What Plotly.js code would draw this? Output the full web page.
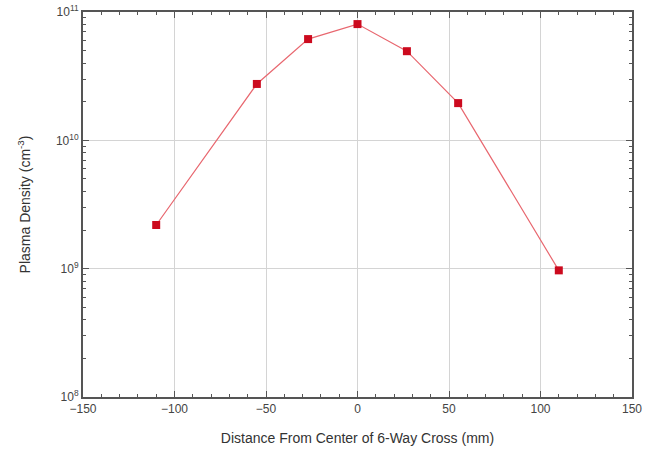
<!DOCTYPE html>
<html><head><meta charset="utf-8">
<script src="https://cdn.plot.ly/plotly-3.0.1.min.js"></script>
<style>html,body{margin:0;padding:0;background:#fff;}#chart{width:652px;height:457px;}</style>
</head><body><div id="chart"></div>
<script>
const distance = [-110, -55, -27, 0, 27, 55, 110];
const density = [2.19e9, 2.75e10, 6.15e10, 8.05e10, 4.95e10, 1.95e10, 9.7e8];
const yTickVals = [1e8, 1e9, 1e10, 1e11];
const yTickText = ['10<sup>8</sup>', '10<sup>9</sup>', '10<sup>10</sup>', '10<sup>11</sup>'];
const xTickVals = [-150, -100, -50, 0, 50, 100, 150];

const yMinorVals = [];
for (let e = 8; e < 11; e++) for (let d = 2; d <= 9; d++) yMinorVals.push(d * Math.pow(10, e));

const axisCommon = {
  showline: true, linecolor: '#555', linewidth: 2, mirror: 'ticks',
  ticks: 'inside', ticklen: 6, tickcolor: '#555', tickwidth: 1,
  showgrid: true, gridcolor: '#d4d4d4', gridwidth: 1, zeroline: false,
  tickfont: {family: 'Liberation Sans, Arial, sans-serif', size: 12, color: '#444'}
};

Plotly.newPlot('chart', [{
  x: distance, y: density, type: 'scatter', mode: 'lines+markers',
  line: {color: '#e8676f', width: 1.2},
  marker: {symbol: 'square', size: 8, color: '#cc0a1e'},
  showlegend: false
}], {
  width: 652, height: 457,
  margin: {l: 83, r: 20, t: 12, b: 60},
  paper_bgcolor: '#fff', plot_bgcolor: '#fff',
  xaxis: Object.assign({}, axisCommon, {
    range: [-150, 150], tickvals: xTickVals,
    minor: {ticks: 'inside', ticklen: 3, tickcolor: '#555', dtick: 10, showgrid: false},
    title: {text: 'Distance From Center of 6-Way Cross (mm)', standoff: 18,
      font: {family: 'Liberation Sans, Arial, sans-serif', size: 14, color: '#333'}}
  }),
  yaxis: Object.assign({}, axisCommon, {
    type: 'log', range: [8, 11], tickvals: yTickVals, ticktext: yTickText,
    minor: {ticks: 'inside', ticklen: 3, tickcolor: '#555', tickmode: 'array', tickvals: yMinorVals, showgrid: false},
    title: {text: 'Plasma Density (cm<sup>-3</sup>)', standoff: 22,
      font: {family: 'Liberation Sans, Arial, sans-serif', size: 14, color: '#333'}}
  })
}, {staticPlot: true});
</script></body></html>
